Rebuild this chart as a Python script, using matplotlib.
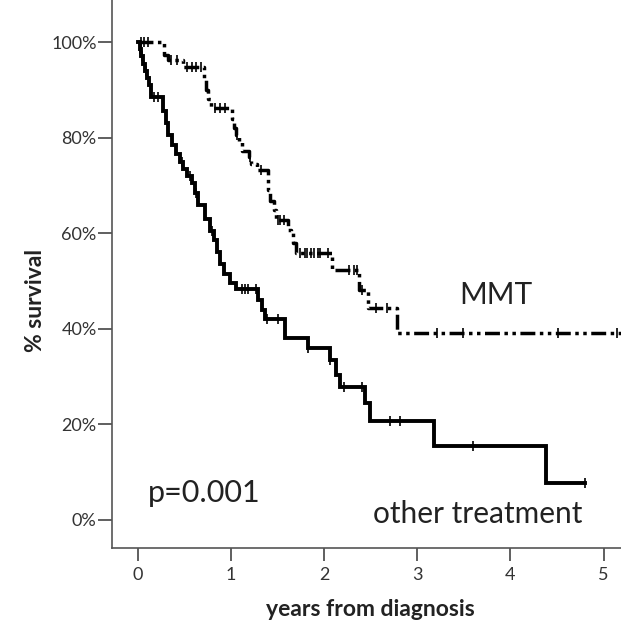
import numpy as np
import matplotlib
matplotlib.use("Agg")
import matplotlib.pyplot as plt

plt.rcParams['font.family'] = ['Lato', 'DejaVu Sans']

# ---- data (years, survival %) ----
other_times = [0.0, 0.02, 0.04, 0.06, 0.08, 0.10, 0.12, 0.14, 0.27, 0.30, 0.33, 0.37, 0.41,
               0.45, 0.49, 0.53, 0.58, 0.62, 0.65, 0.72, 0.78, 0.82, 0.85, 0.88, 0.93,
               0.99, 1.05, 1.29, 1.33, 1.37, 1.58, 1.83, 2.06, 2.13, 2.17, 2.44, 2.49,
               3.18, 4.38, 4.80]
other_surv = [100, 98.5, 97, 95.5, 94, 92.5, 91, 88.6, 85.5, 83, 80.5, 78.5, 76.5,
              75, 73.5, 72, 70.5, 68.5, 66, 63, 60.5, 58.5, 56, 53.5, 51.5,
              49.5, 48.3, 46, 44, 42, 38.0, 36.0, 33.5, 30.3, 27.8, 24.4, 20.8,
              15.5, 7.7, 7.7]
other_censor = [0.02, 0.05, 0.09, 0.17, 0.22, 0.47, 0.56, 0.63, 0.80, 1.12, 1.15, 1.18,
                1.27, 1.39, 1.51, 1.83, 2.06, 2.21, 2.41, 2.71, 2.81, 3.60, 4.80]

mmt_times = [0.0, 0.28, 0.32, 0.49, 0.71, 0.73, 0.75, 0.79, 1.01, 1.03, 1.05, 1.09,
             1.12, 1.19, 1.22, 1.28, 1.40, 1.42, 1.46, 1.48, 1.61, 1.65, 1.67, 1.70,
             2.09, 2.37, 2.47, 2.78, 5.20]
mmt_surv = [100, 97.3, 96.2, 94.8, 92.5, 90, 88, 86.2, 84, 82, 80.5, 79,
            77.2, 76, 74.5, 73.2, 69, 66.7, 64.8, 62.8, 60.7, 60.0, 57.9, 55.8,
            52.3, 48.1, 44.3, 39.1, 39.1]
mmt_censor = [0.03, 0.07, 0.11, 0.36, 0.42, 0.53, 0.58, 0.63, 0.68, 0.83, 0.88, 0.94,
              1.06, 1.20, 1.32, 1.50, 1.53, 1.57, 1.74, 1.79, 1.82, 1.86, 1.89, 1.93,
              1.96, 2.04, 2.27, 2.32, 2.35, 2.41, 2.56, 2.67, 3.21, 3.49, 4.51, 5.14]

x_ticks = [0, 1, 2, 3, 4, 5]
y_ticks = [0, 20, 40, 60, 80, 100]
y_ticklabels = ['0%', '20%', '40%', '60%', '80%', '100%']


def surv_at(times, surv, t):
    idx = np.searchsorted(np.asarray(times), t, side='right') - 1
    return np.asarray(surv)[np.clip(idx, 0, len(surv) - 1)]


W, H = 621, 623
fig = plt.figure(figsize=(W / 100, H / 100), dpi=100)
ax = fig.add_axes([112 / W, 1 - 548 / H, 1 - 112 / W, 548 / H])

ax.step(other_times, other_surv, where='post', color='black', lw=2.8,
        solid_joinstyle='miter')
ax.plot(other_censor, surv_at(other_times, other_surv, other_censor), ls='none',
        marker='|', ms=7, mew=1.2, color='black')

ax.step(mmt_times, mmt_surv, where='post', color='black', lw=2.5,
        ls=(0, (4.3, 1.3, 1.0, 1.3, 1.0, 1.3)))
ax.plot(mmt_censor, surv_at(mmt_times, mmt_surv, mmt_censor), ls='none',
        marker='|', ms=7, mew=1.2, color='black')

ax.set_xlim(-0.276, 5.186)
ax.set_ylim(-5.86, 108.8)
ax.set_xticks(x_ticks)
ax.set_xticklabels([str(v) for v in x_ticks])
ax.set_yticks(y_ticks)
ax.set_yticklabels(y_ticklabels)

for s in ['top', 'right']:
    ax.spines[s].set_visible(False)
for s in ['left', 'bottom']:
    ax.spines[s].set_color('#555555')
    ax.spines[s].set_linewidth(1.2)

ax.tick_params(axis='y', length=10, width=1.2, color='#444444', pad=1,
               labelsize=13, labelcolor='#333333')
ax.tick_params(axis='x', length=9, width=1.2, color='#444444', pad=5,
               labelsize=13, labelcolor='#333333')

fig.text(35 / W, 1 - 300 / H, '% survival', rotation=90, ha='center', va='center',
         fontsize=16.5, fontweight='bold', color='#222222')
fig.text(370 / W, 1 - 609 / H, 'years from diagnosis', ha='center', va='center',
         fontsize=16.5, fontweight='bold', color='#222222')

fig.text(496 / W, 1 - 295 / H, 'MMT', ha='center', va='center', fontsize=21.5,
         color='#222222')
fig.text(478 / W, 1 - 514 / H, 'other treatment', ha='center', va='center',
         fontsize=21.5, color='#222222')
fig.text(204 / W, 1 - 493 / H, 'p=0.001', ha='center', va='center', fontsize=22,
         color='#222222')

fig.savefig('out.png', dpi=100)
